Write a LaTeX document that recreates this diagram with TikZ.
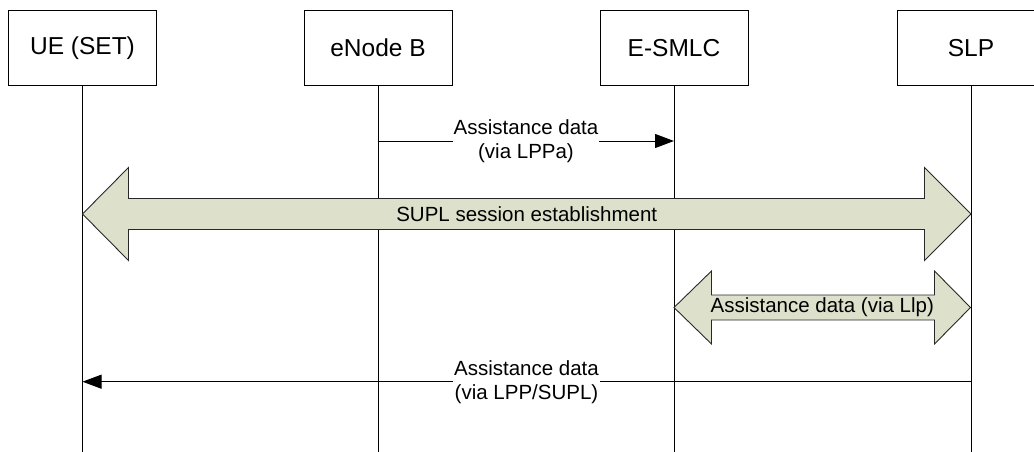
\documentclass[tikz,border=0pt]{standalone}
\usepackage{fontspec}
\setmainfont{Liberation Sans}
\usetikzlibrary{arrows.meta,calc}
\definecolor{fatfill}{RGB}{221,225,204}
\definecolor{fatline}{RGB}{40,40,40}
\begin{document}
\begin{tikzpicture}[x=1pt,y=-1pt,
  entity/.style={draw,line width=1pt,minimum width=148pt,minimum height=74.5pt,inner sep=0pt,
    font=\fontsize{24.5}{28}\selectfont},
  lifeline/.style={line width=1pt},
  msg/.style={line width=1pt,-{Triangle[length=19pt,width=14pt]}},
  msglabel/.style={fill=white,inner xsep=1pt,inner ysep=0pt,align=center,
    font=\fontsize{20.5}{24}\selectfont},
  fatarrow/.style={draw=fatline,fill=fatfill,line width=0.9pt,line join=miter},
  fatlabel/.style={inner sep=0pt,font=\fontsize{20.5}{24}\selectfont}]
\useasboundingbox (0,0) rectangle (1034,452);
% entities
\node[entity] (ue)   at (82.5,48.2) {UE (SET)};
\node[entity] (enb)  at (378,48.2)  {eNode B};
\node[entity] (smlc) at (674,48.2)  {E-SMLC};
\node[entity] (slp)  at (971,48.2)  {SLP};
% lifelines
\coordinate (bot) at (0,452);
\foreach \n in {ue,enb,smlc,slp} {
  \coordinate (\n-end) at (\n.south |- bot);
  \draw[lifeline] (\n.south) -- (\n-end);
}
% message 1
\coordinate (y1) at (0,141);
\coordinate (m1s) at (enb |- y1);
\coordinate (m1e) at (smlc |- y1);
\draw[msg] (m1s) -- (m1e);
\node[msglabel] (l1) at ($(m1s)!0.5!(m1e)$) {Assistance data\\(via LPPa)};
% SUPL session establishment (big double arrow)
\coordinate (y2) at (0,214);
\coordinate (bL) at (ue |- y2);
\coordinate (bR) at (slp |- y2);
\draw[fatarrow] (bL) -- ++(46,-46.5) -- ++(0,31) -- ($(bR)+(-46.5,-15.5)$) -- ++(0,-31)
  -- (bR) -- ++(-46.5,46.5) -- ++(0,-31) -- ($(bL)+(46,15.5)$) -- ++(0,31) -- cycle;
\node[fatlabel] (l2) at ($(bL)!0.5!(bR)$) {SUPL session establishment};
% Assistance data via Llp (small double arrow)
\coordinate (y3) at (0,307.5);
\coordinate (sL) at (smlc |- y3);
\coordinate (sR) at ($(slp |- y3)+(-0.5,0)$);
\draw[fatarrow] (sL) -- ++(37.5,-36.5) -- ++(0,24) -- ($(sR)+(-36,-12.5)$) -- ++(0,-24)
  -- (sR) -- ++(-36,36.5) -- ++(0,-24) -- ($(sL)+(37.5,12.5)$) -- ++(0,24) -- cycle;
\node[fatlabel] (l3) at ($(sL)!0.5!(sR)$) {Assistance data (via Llp)};
% message 4
\coordinate (y4) at (0,381.7);
\coordinate (m4s) at (slp |- y4);
\coordinate (m4e) at (ue |- y4);
\draw[msg] (m4s) -- (m4e);
\node[msglabel] (l4) at (526.5,381.7) {Assistance data\\(via LPP/SUPL)};
\end{tikzpicture}
\end{document}
